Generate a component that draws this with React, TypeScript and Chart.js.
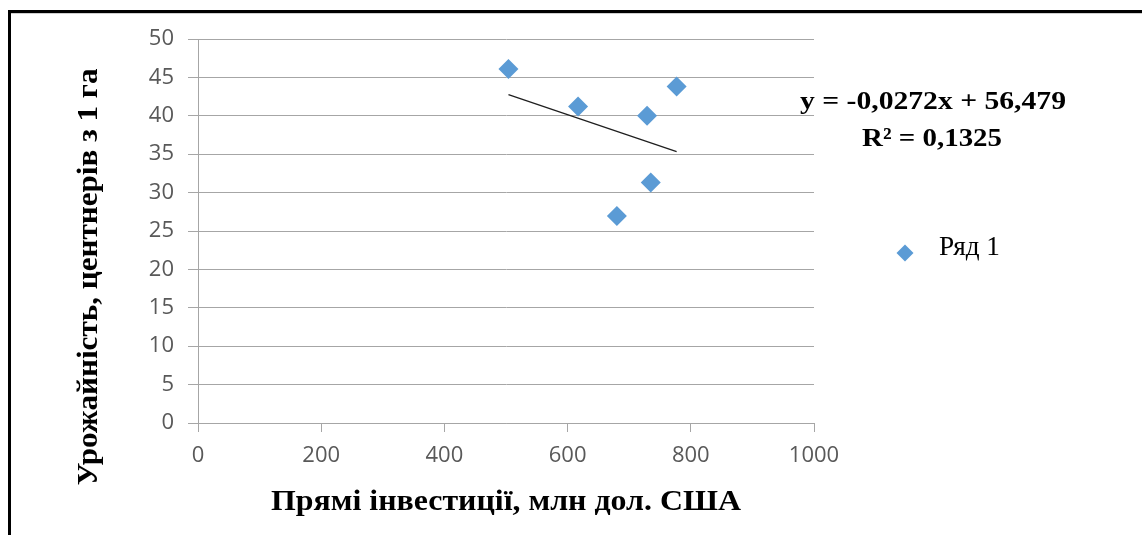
import { useEffect, useRef } from "react";
import { Chart, registerables } from "chart.js";

Chart.register(...registerables);

// Direct investment (mln USD) and crop yield (centners per hectare)
const investment = [504, 617, 729, 777, 735, 680];
const cropYield = [46.1, 41.2, 40.0, 43.8, 31.3, 26.95];

// Linear trend reported for the series
const trendSlope = -0.0272;
const trendIntercept = 56.479;
const trendR2 = 0.1325;

const seriesName = "Ряд 1";
const xTitle = "Прямі інвестиції, млн дол. США";
const yTitle = "Урожайність, центнерів з 1 га";

const xMin = 0;
const xMax = 1000;
const xStep = 200;
const yMin = 0;
const yMax = 50;
const yStep = 5;

const POINT_COLOR = "#5b9bd5";
const GRID_COLOR = "#a6a6a6";
const TICK_COLOR = "#595959";
const SERIF = "'Liberation Serif', 'Times New Roman', serif";

const fmt = (v: number) => String(v).replace(".", ",");

const equationText = `y = ${fmt(trendSlope)}x + ${fmt(trendIntercept)}`;
const r2Text = `R² = ${fmt(trendR2)}`;

// Draws text horizontally fitted into a given width
function fitText(
  ctx: CanvasRenderingContext2D,
  text: string,
  font: string,
  x: number,
  y: number,
  width: number,
  align: CanvasTextAlign
) {
  ctx.save();
  ctx.font = font;
  const w = ctx.measureText(text).width;
  ctx.translate(x, y);
  ctx.scale(width / w, 1);
  ctx.textAlign = align;
  ctx.textBaseline = "alphabetic";
  ctx.fillText(text, 0, 0);
  ctx.restore();
}

// Rotated (bottom-to-top) text fitted into a given length
function fitTextVertical(
  ctx: CanvasRenderingContext2D,
  text: string,
  font: string,
  x: number,
  y: number,
  length: number
) {
  ctx.save();
  ctx.font = font;
  const w = ctx.measureText(text).width;
  ctx.translate(x, y);
  ctx.rotate(-Math.PI / 2);
  ctx.scale(length / w, 1);
  ctx.textAlign = "center";
  ctx.textBaseline = "alphabetic";
  ctx.fillText(text, 0, 0);
  ctx.restore();
}

function diamond(ctx: CanvasRenderingContext2D, cx: number, cy: number, r: number) {
  ctx.beginPath();
  ctx.moveTo(cx, cy - r);
  ctx.lineTo(cx + r, cy);
  ctx.lineTo(cx, cy + r);
  ctx.lineTo(cx - r, cy);
  ctx.closePath();
  ctx.fill();
}

const decorPlugin = {
  id: "decor",
  afterDraw(chart: Chart) {
    const ctx = chart.ctx;
    ctx.save();
    // frame
    ctx.fillStyle = "#000";
    ctx.fillRect(8, 10, chart.width - 8, 3);
    ctx.fillRect(8, 10, 3, chart.height - 10);
    ctx.fillStyle = "#cfcfcf";
    ctx.fillRect(11, 13, chart.width - 11, 1);

    // trend equation
    ctx.fillStyle = "#000";
    fitText(ctx, equationText, `bold 26px ${SERIF}`, 933, 109, 266, "center");
    fitText(ctx, r2Text, `bold 26px ${SERIF}`, 932, 146, 140, "center");

    // legend
    ctx.fillStyle = POINT_COLOR;
    diamond(ctx, 905, 253, 8.5);
    ctx.fillStyle = "#000";
    fitText(ctx, seriesName, `27px ${SERIF}`, 939, 255, 61, "left");

    // axis titles
    fitText(ctx, xTitle, `bold 30px ${SERIF}`, 506, 510, 470, "center");
    fitTextVertical(ctx, yTitle, `bold 30px ${SERIF}`, 97, 277, 417);
    ctx.restore();
  },
};

export default function App() {
  const canvasRef = useRef<HTMLCanvasElement | null>(null);

  useEffect(() => {
    const canvas = canvasRef.current;
    if (!canvas) return;

    const points = investment.map((x, i) => ({ x, y: cropYield[i] }));
    const tx0 = Math.min(...investment);
    const tx1 = Math.max(...investment);
    const trend = [
      { x: tx0, y: trendSlope * tx0 + trendIntercept },
      { x: tx1, y: trendSlope * tx1 + trendIntercept },
    ];

    const chart = new Chart(canvas, {
      type: "scatter",
      data: {
        datasets: [
          {
            type: "line",
            label: "trend",
            data: trend,
            borderColor: "#1f1f1f",
            borderWidth: 1.3,
            pointRadius: 0,
            fill: false,
            order: 0,
          } as any,
          {
            type: "scatter",
            label: seriesName,
            data: points,
            pointStyle: "rectRot",
            pointRadius: 10,
            backgroundColor: POINT_COLOR,
            borderColor: POINT_COLOR,
            borderWidth: 0,
            order: 1,
          },
        ],
      },
      options: {
        responsive: false,
        animation: false,
        devicePixelRatio: 1,
        layout: { padding: { top: 39, right: 328, left: 0, bottom: 0 } },
        plugins: {
          legend: { display: false },
          tooltip: { enabled: false },
        },
        scales: {
          x: {
            type: "linear",
            min: xMin,
            max: xMax,
            ticks: {
              stepSize: xStep,
              color: TICK_COLOR,
              font: { family: "'Open Sans'", size: 22 },
              padding: 11,
              maxRotation: 0,
              callback: (v: any) => String(v),
            },
            grid: {
              drawOnChartArea: false,
              drawTicks: true,
              tickLength: 9,
              color: GRID_COLOR,
            },
            border: { color: GRID_COLOR },
            afterFit: (s: any) => {
              s.height = 112;
            },
          },
          y: {
            type: "linear",
            min: yMin,
            max: yMax,
            ticks: {
              stepSize: yStep,
              color: TICK_COLOR,
              font: { family: "'Open Sans'", size: 22 },
              padding: 14,
              callback: (v: any) => String(v),
            },
            grid: { color: GRID_COLOR, tickLength: 10 },
            border: { color: GRID_COLOR },
            afterFit: (s: any) => {
              s.width = 198;
            },
          },
        },
      },
      plugins: [decorPlugin],
    });

    const fonts = (document as any).fonts;
    if (fonts && fonts.load) {
      Promise.all([
        fonts.load("22px 'Open Sans'"),
        fonts.load(`bold 30px ${SERIF}`),
        fonts.load(`27px ${SERIF}`),
      ])
        .then(() => chart.update())
        .catch(() => {});
    }

    return () => chart.destroy();
  }, []);

  return (
    <div
      style={{
        position: "absolute",
        left: 0,
        top: 0,
        width: 1142,
        height: 535,
        background: "#fff",
      }}
    >
      <canvas ref={canvasRef} width={1142} height={535} style={{ display: "block" }} />
    </div>
  );
}
